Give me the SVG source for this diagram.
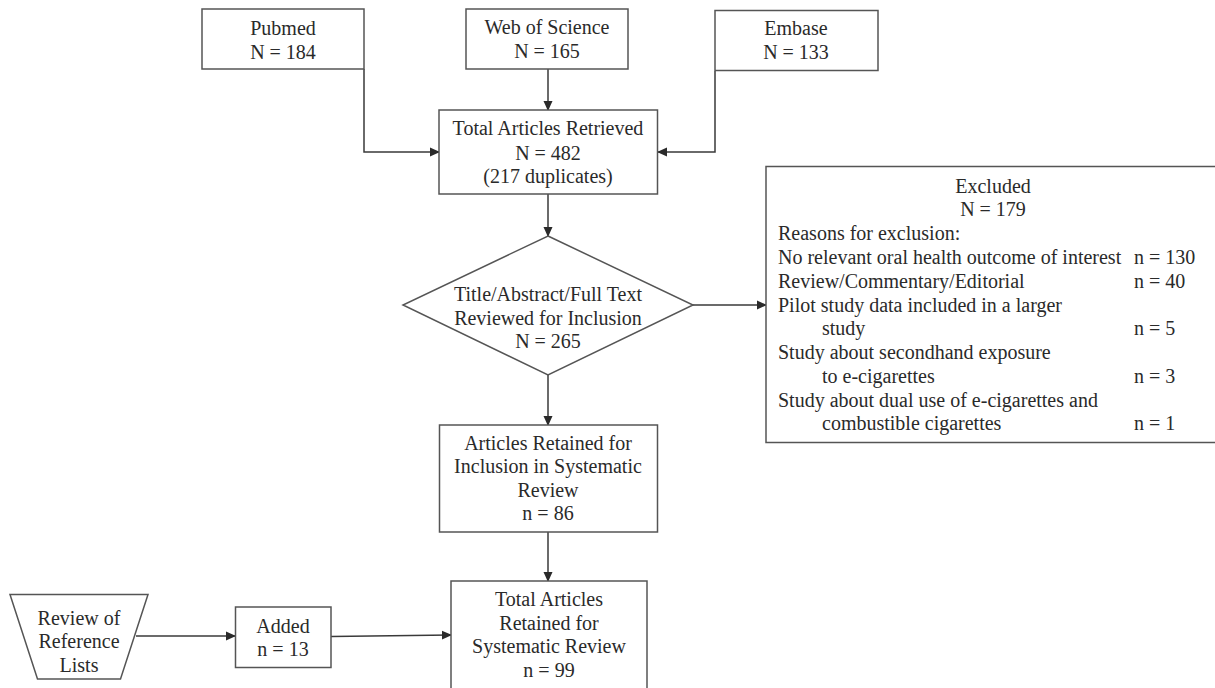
<svg xmlns="http://www.w3.org/2000/svg" width="1215" height="688" viewBox="0 0 1215 688">
<defs>
<marker id="arr" markerWidth="10" markerHeight="10" refX="9" refY="5" orient="auto" markerUnits="userSpaceOnUse">
<path d="M0,0.5 L10,5 L0,9.5 Z" fill="#2a2a2a"/>
</marker>
</defs>
<style>
.box{fill:#fff;stroke:#555;stroke-width:1.5}
.t{font-family:"Liberation Serif","Times New Roman",serif;font-size:20px;fill:#2a2a2a}
.c{text-anchor:middle}
.ln{fill:none;stroke:#3a3a3a;stroke-width:1.5}
</style>
<rect width="1215" height="688" fill="#fff"/>
<g id="connectors">
<path class="ln" d="M364,69 V152 H439" marker-end="url(#arr)"/>
<path class="ln" d="M548,69 V110" marker-end="url(#arr)"/>
<path class="ln" d="M715,71 V152 H658" marker-end="url(#arr)"/>
<path class="ln" d="M548,194 V236" marker-end="url(#arr)"/>
<path class="ln" d="M693,305 H766" marker-end="url(#arr)"/>
<path class="ln" d="M548,375 V425" marker-end="url(#arr)"/>
<path class="ln" d="M548,532 V581" marker-end="url(#arr)"/>
<path class="ln" d="M136,636 H235" marker-end="url(#arr)"/>
<path class="ln" d="M331,636.5 L451,635" marker-end="url(#arr)"/>
</g>
<g id="pubmed">
<rect class="box" x="202" y="9" width="162" height="60"/>
<text class="t c" x="283" y="35">Pubmed</text>
<text class="t c" x="283" y="58.5">N = 184</text>
</g>
<g id="wos">
<rect class="box" x="466" y="9" width="162" height="60"/>
<text class="t c" x="547" y="34">Web of Science</text>
<text class="t c" x="547" y="57.5">N = 165</text>
</g>
<g id="embase">
<rect class="box" x="715" y="10.5" width="163" height="60"/>
<text class="t c" x="796" y="35">Embase</text>
<text class="t c" x="796" y="58.5">N = 133</text>
</g>
<g id="total-retrieved">
<rect class="box" x="439" y="110" width="218.5" height="84"/>
<text class="t c" x="548" y="135">Total Articles Retrieved</text>
<text class="t c" x="548" y="159.5">N = 482</text>
<text class="t c" x="548" y="183">(217 duplicates)</text>
</g>
<g id="screen">
<polygon class="box" points="548,236 693,305 548,375 403,305"/>
<text class="t c" x="548" y="301">Title/Abstract/Full Text</text>
<text class="t c" x="548" y="324.5">Reviewed for Inclusion</text>
<text class="t c" x="548" y="348">N = 265</text>
</g>
<g id="excluded">
<rect class="box" x="766" y="166.5" width="460" height="276"/>
<text class="t c" x="993" y="192.5">Excluded</text>
<text class="t c" x="993" y="216">N = 179</text>
<text class="t" x="778" y="240">Reasons for exclusion:</text>
<text class="t" x="778" y="264">No relevant oral health outcome of interest</text>
<text class="t" x="1134" y="264">n = 130</text>
<text class="t" x="778" y="287.5">Review/Commentary/Editorial</text>
<text class="t" x="1134" y="287.5">n = 40</text>
<text class="t" x="778" y="311.5">Pilot study data included in a larger</text>
<text class="t" x="822" y="335">study</text>
<text class="t" x="1134" y="335">n = 5</text>
<text class="t" x="778" y="359">Study about secondhand exposure</text>
<text class="t" x="822" y="382.5">to e-cigarettes</text>
<text class="t" x="1134" y="382.5">n = 3</text>
<text class="t" x="778" y="406.5">Study about dual use of e-cigarettes and</text>
<text class="t" x="822" y="430">combustible cigarettes</text>
<text class="t" x="1134" y="430">n = 1</text>
</g>
<g id="retained">
<rect class="box" x="439.5" y="425" width="218" height="107"/>
<text class="t c" x="548" y="449.5">Articles Retained for</text>
<text class="t c" x="548" y="473">Inclusion in Systematic</text>
<text class="t c" x="548" y="496.5">Review</text>
<text class="t c" x="548" y="520">n = 86</text>
</g>
<g id="total-retained">
<rect class="box" x="451" y="581" width="196" height="112"/>
<text class="t c" x="549" y="605.5">Total Articles</text>
<text class="t c" x="549" y="629.5">Retained for</text>
<text class="t c" x="549" y="653">Systematic Review</text>
<text class="t c" x="549" y="677">n = 99</text>
</g>
<g id="reference-lists">
<polygon class="box" points="10,594.5 148,594.5 120.5,679 37.5,679"/>
<text class="t c" x="79" y="624.5">Review of</text>
<text class="t c" x="79" y="648">Reference</text>
<text class="t c" x="79" y="671.5">Lists</text>
</g>
<g id="added">
<rect class="box" x="235.5" y="607" width="95.5" height="60.5"/>
<text class="t c" x="283" y="632.5">Added</text>
<text class="t c" x="283" y="656">n = 13</text>
</g>
</svg>
